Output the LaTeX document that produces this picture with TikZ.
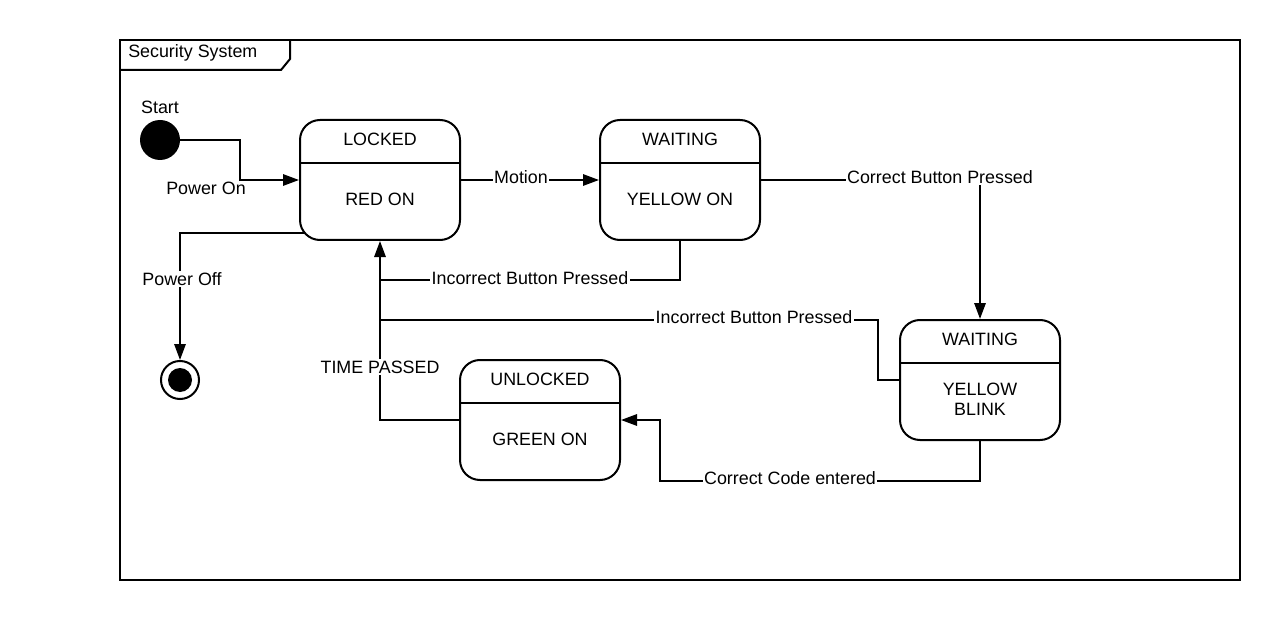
\documentclass[tikz,border=0pt]{standalone}
\usepackage{fontspec}
\setmainfont{Liberation Sans}
\usetikzlibrary{arrows.meta}

\tikzset{
  state/.style={draw,line width=1.5pt,rounded corners=15pt,minimum width=120pt,minimum height=90pt,inner sep=0pt,
    path picture={\draw[line width=1.5pt] ([yshift=-32.25pt]path picture bounding box.north west) -- ([yshift=-32.25pt]path picture bounding box.north east);}},
  stxt/.style={align=center,inner sep=1pt},
  lbl/.style={fill=white,inner sep=1pt},
  trans/.style={line width=1.5pt,-{Triangle[length=12pt,width=8.5pt]}},
  link/.style={line width=1.5pt}
}

\begin{document}
\begin{tikzpicture}[x=0.75pt,y=-0.75pt,line join=miter,font=\fontsize{13.4pt}{15pt}\selectfont]
\useasboundingbox (0,0) rectangle (1280,620);
% frame
\draw[line width=1.5pt] (120,40) rectangle (1240,580);
\draw[line width=1.5pt] (120,70) -- (281,70) -- (290,59) -- (290,40);
\node[anchor=west,inner sep=0pt] (title) at (128,53) {Security System};
% pseudo states
\node[circle,fill=black,minimum size=30pt,inner sep=0pt] (start) at (160,140) {};
\node (startlbl) at (160,107) {Start};
\node[circle,draw,line width=1.5pt,minimum size=28.5pt,inner sep=0pt] (final) at (180,380) {};
\node[circle,fill=black,minimum size=18pt,inner sep=0pt] (finaldot) at (180,380) {};
% states
\node[state] (locked) at (380,180) {};
\node[stxt] (locked-t) at (380,139) {LOCKED};
\node[stxt] (locked-b) at (380,199) {RED ON};
\node[state] (waiting) at (680,180) {};
\node[stxt] (waiting-t) at (680,139) {WAITING};
\node[stxt] (waiting-b) at (680,199) {YELLOW ON};
\node[state] (blink) at (980,380) {};
\node[stxt] (blink-t) at (980,339) {WAITING};
\node[stxt] (blink-b) at (980,399) {YELLOW\\BLINK};
\node[state] (unlocked) at (540,420) {};
\node[stxt] (unlocked-t) at (540,379) {UNLOCKED};
\node[stxt] (unlocked-b) at (540,439) {GREEN ON};
% junctions
\coordinate (poff) at (305,233);
\coordinate (j1) at (380,280);
\coordinate (j2) at (380,320);
\coordinate (j3) at (660,481);
% transitions
\draw[trans] (start) -- (240,140) |- (locked.west);
\draw[trans] (poff) -| (final);
\draw[trans] (locked.east) -- (waiting.west);
\draw[trans] (waiting.east) -| (blink.north);
\draw[link] (waiting.south) |- (j1);
\draw[link] (blink.west) -- (878,380) |- (j2);
\draw[link] (unlocked.west) -| (j1);
\draw[trans] (j1) -- (locked.south);
\draw[trans] (blink.south) |- (j3) |- (unlocked.east);
% labels
\node[inner sep=1pt] (lpon) at (206,188) {Power On};
\node[lbl] (lpoff) at (182,279) {Power Off};
\node[lbl] (lmot) at (521,177) {Motion};
\node[lbl] (lcbp) at (940,177) {Correct Button Pressed};
\node[lbl] (libp1) at (530,278) {Incorrect Button Pressed};
\node[lbl] (libp2) at (754,317) {Incorrect Button Pressed};
\node[lbl] (ltp) at (380,367) {TIME PASSED};
\node[lbl] (lcce) at (790,478) {Correct Code entered};
\end{tikzpicture}
\end{document}
